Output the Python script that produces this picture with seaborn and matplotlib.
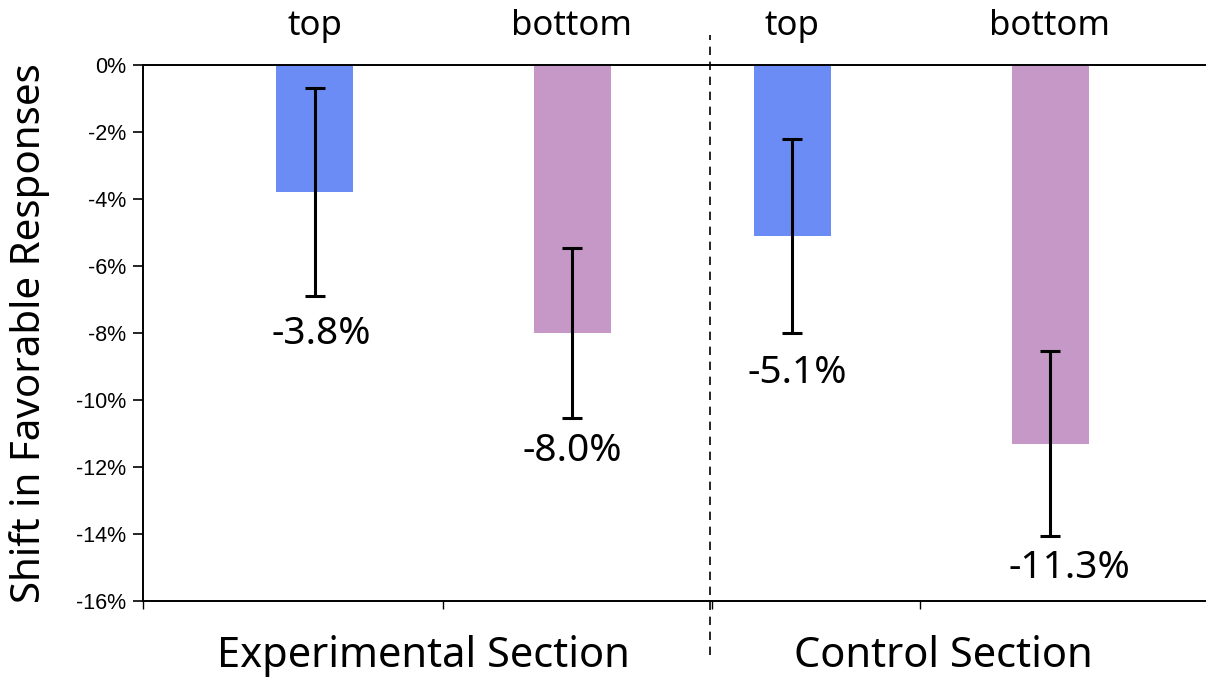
import matplotlib.pyplot as plt
import matplotlib.ticker as mticker
import pandas as pd
import seaborn as sns
from matplotlib.transforms import blended_transform_factory

# Data
sections = ["Experimental Section", "Control Section"]
groups = ["top", "bottom", "top", "bottom"]
shift = [-3.8, -8.0, -5.1, -11.3]
err = [3.1, 2.55, 2.9, 2.75]
value_labels = ["-3.8%", "-8.0%", "-5.1%", "-11.3%"]
yticks = [0, -2, -4, -6, -8, -10, -12, -14, -16]

# Layout (x measured in pixels from the left spine)
bar_x = [171.5, 429, 649, 907]
section_x = [280.5, 800]
xtick_pos = [0, 300, 569, 777]
divider_x = 567
label_dx = [7, 0, 5, 19]     # px
label_gap = [19, 14, 21, 13]  # px below error bar end
colors = {"top": "#6b8cf5", "bottom": "#c598c7"}

df = pd.DataFrame({"x": bar_x, "group": groups, "shift": shift})

sns.set_theme(style="ticks")
plt.rcParams["font.family"] = ["Noto Sans", "DejaVu Sans"]

fig = plt.figure(figsize=(12.08, 6.77), dpi=100)
ax = fig.add_axes([143 / 1208, 1 - 601 / 677, 1062 / 1208, 536 / 677])

sns.barplot(
    data=df, x="x", y="shift", hue="group", palette=colors,
    native_scale=True, dodge=False, width=0.35, errorbar=None,
    legend=False, linewidth=0, saturation=1, ax=ax,
)
ax.errorbar(bar_x, shift, yerr=err, fmt="none", ecolor="black",
            elinewidth=2.2, capsize=7, capthick=2.2, zorder=3)

ax.set_xlim(0, 1062)
ax.set_ylim(-16, 0)
ax.set_yticks(yticks)
ax.yaxis.set_major_formatter(mticker.FuncFormatter(lambda v, p: f"{int(round(v))}%"))
ax.set_xticks(xtick_pos)
ax.set_xticklabels([])
ax.set_xlabel("")
ax.tick_params(axis="y", length=7, width=1.2, pad=5, labelsize=15.5, colors="black")
ax.tick_params(axis="x", length=6, width=1.0, colors="black")
for lab in ax.get_yticklabels():
    lab.set_fontfamily("Liberation Sans")

for side in ["top", "left", "bottom"]:
    ax.spines[side].set_linewidth(1.4)
    ax.spines[side].set_color("black")
ax.spines["right"].set_visible(False)

ax.set_ylabel("Shift in Favorable Responses", fontsize=29, color="black")
ax.yaxis.set_label_coords(-0.088, 0.5)

trans = blended_transform_factory(ax.transData, ax.transAxes)
for x, g in zip(bar_x, groups):
    ax.text(x, 1.056, g, transform=trans, ha="center", va="baseline",
            fontsize=25, color="black")
for x, s in zip(section_x, sections):
    ax.text(x, -0.123, s, transform=trans, ha="center", va="baseline",
            fontsize=30, color="black")

for x, v, e, lab, dx, gap in zip(bar_x, shift, err, value_labels, label_dx, label_gap):
    ax.annotate(lab, (x, v - e), xytext=(dx * 0.72, -gap * 0.72),
                textcoords="offset points", ha="center", va="top",
                fontsize=28, color="black")

# dashed divider between sections
ax.plot([divider_x, divider_x], [-0.101, 1.056], transform=trans,
        color="black", lw=1.2, linestyle=(0, (5, 4)), clip_on=False)

fig.savefig("out.png", dpi=100)
print("saved out.png")
